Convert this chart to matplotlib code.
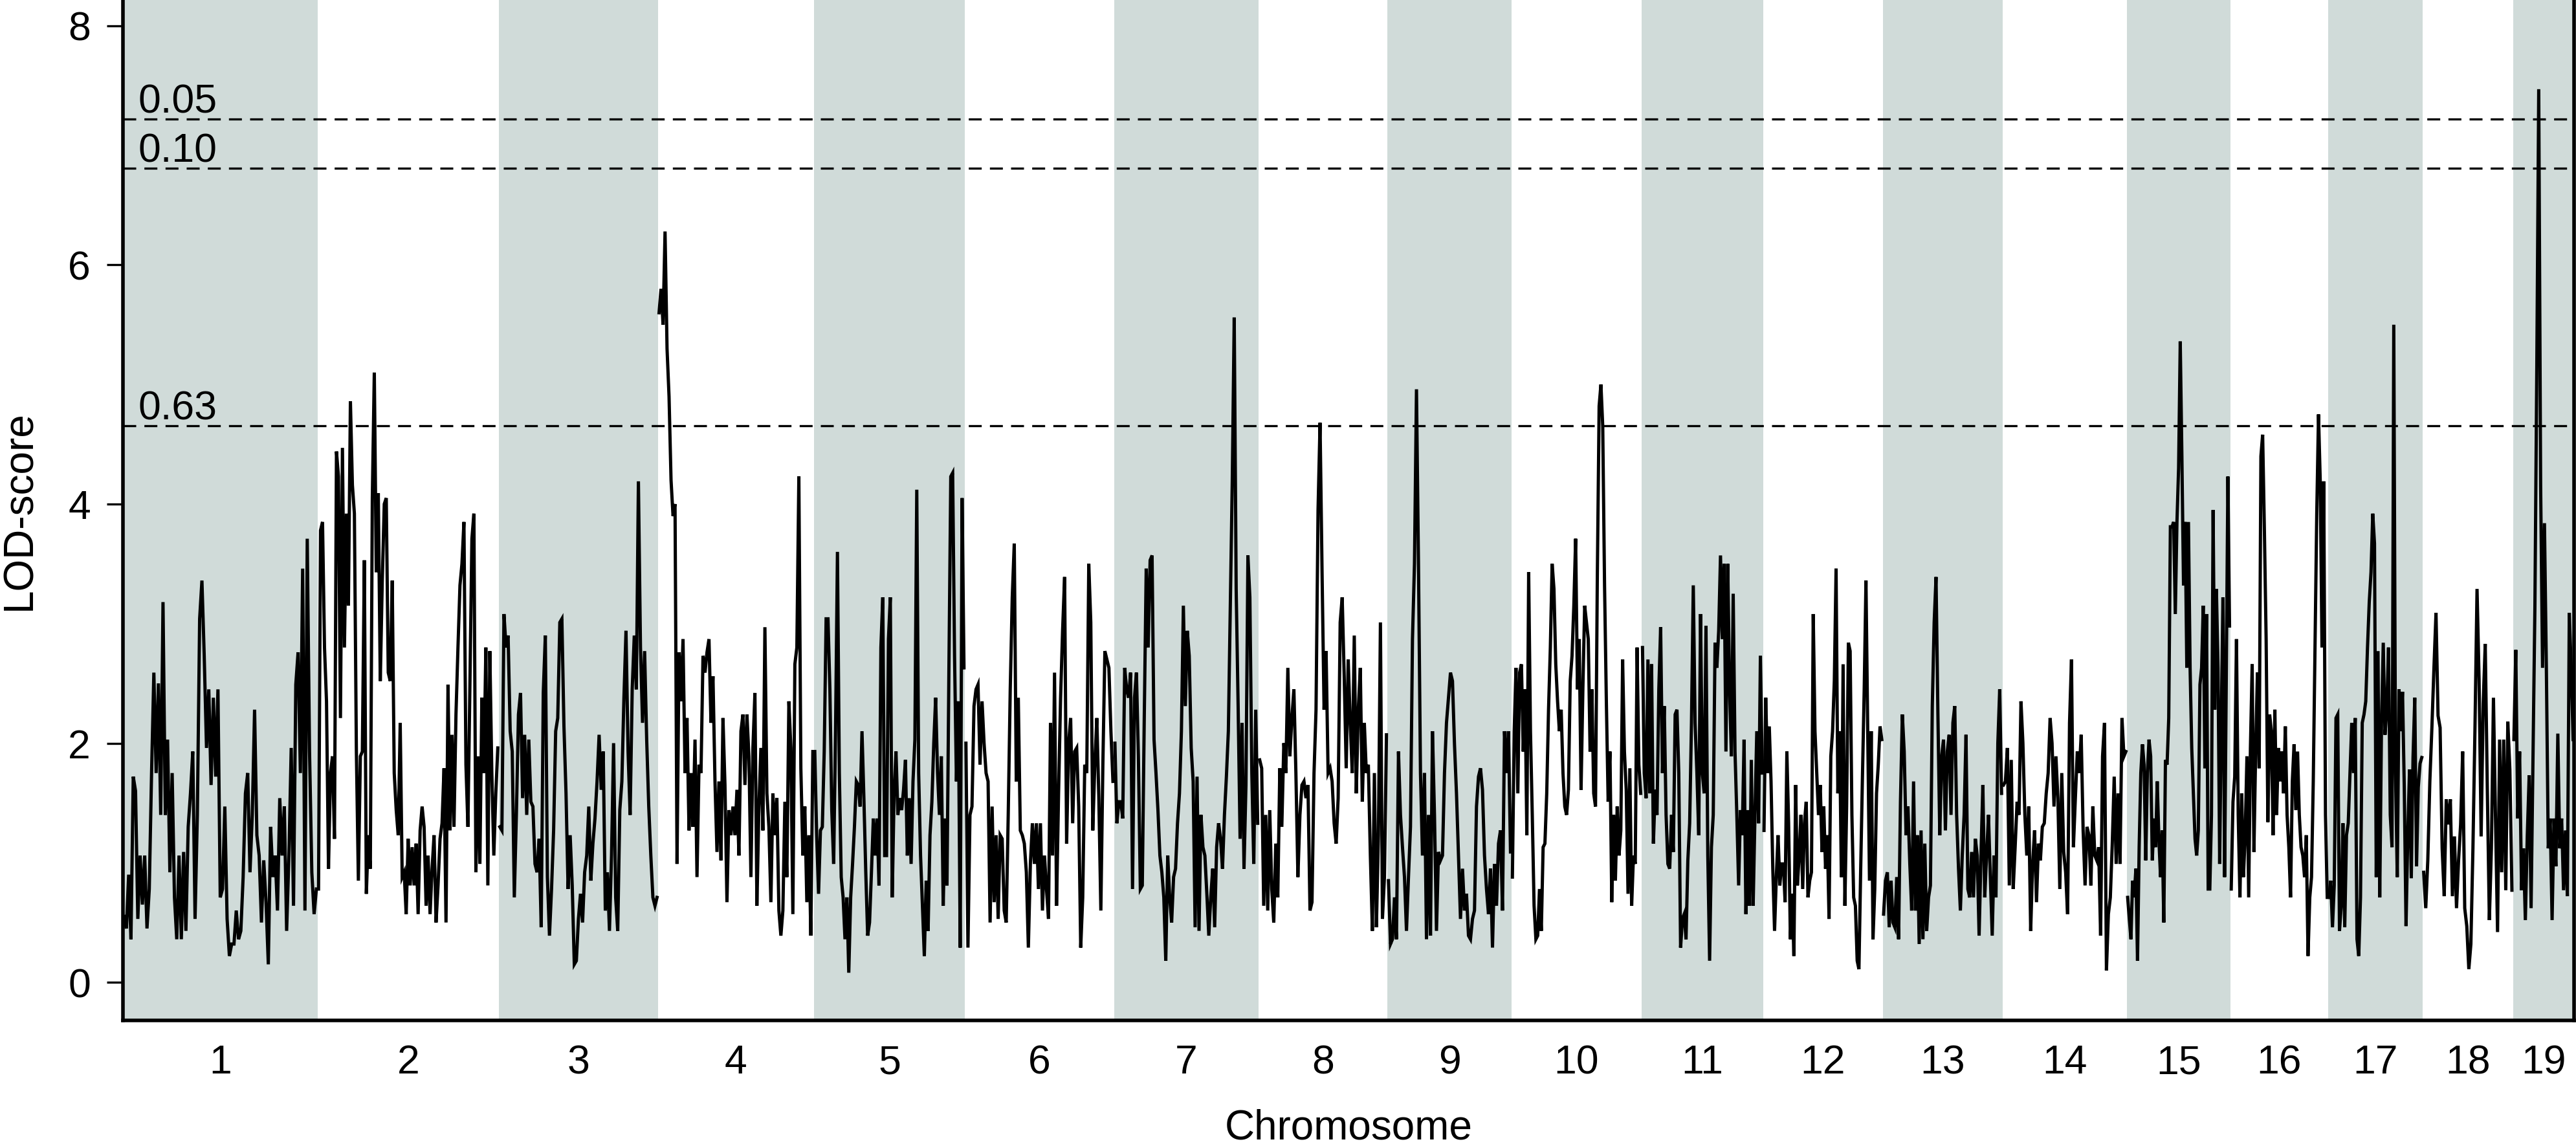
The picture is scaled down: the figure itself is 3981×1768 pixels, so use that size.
import numpy as np
import matplotlib
matplotlib.use("Agg")
from matplotlib import pyplot as plt

plt.rcParams['font.family'] = ['Liberation Sans', 'DejaVu Sans']

# chromosome names and lengths (Mb)
chrom_names = [str(i) for i in range(1, 20)]
chrom_len = [195.5, 182.1, 160.0, 156.5, 151.8, 149.7, 145.4, 129.4, 124.6, 130.7,
             122.1, 120.1, 120.4, 124.9, 104.0, 98.2, 95.0, 90.7, 61.4]

# LOD scores, evenly spaced along each chromosome
lod_chr1 = [0.55, 0.45, 0.9, 0.36, 1.72, 1.6, 0.53, 1.06, 0.65, 1.06, 0.45, 0.78, 1.75, 2.59, 1.75,
            2.5, 1.4, 3.18, 1.4, 2.03, 0.92, 1.75, 0.71, 0.36, 1.06, 0.36, 1.09, 0.43, 1.3, 1.58,
            1.93, 0.53, 1.4, 3.04, 3.36, 2.73, 1.96, 2.45, 1.65, 2.38, 1.72, 2.45, 0.71, 0.78, 1.47,
            0.53, 0.22, 0.32, 0.32, 0.6, 0.36, 0.43, 0.88, 1.58, 1.75, 0.92, 1.4, 2.28, 1.23, 1.06,
            0.5, 1.02, 0.67, 0.15, 1.3, 0.88, 1.06, 0.6, 1.54, 1.06, 1.47, 0.43, 1.06, 1.96, 0.64,
            2.49, 2.76, 1.75, 3.46, 0.6, 3.71, 1.93, 0.92, 0.57, 0.78]
lod_chr2 = [0.78, 3.78, 3.85, 2.8, 2.35, 0.95, 1.75, 1.89, 1.2, 4.44, 4.23, 2.21, 4.47, 2.8, 3.92,
            3.15, 4.86, 4.16, 3.92, 1.93, 0.85, 1.89, 1.93, 3.53, 0.74, 1.23, 0.95, 4.05, 5.1, 3.43,
            4.09, 2.52, 3.36, 4.0, 4.05, 2.59, 2.52, 3.36, 1.75, 1.44, 1.23, 2.17, 0.88, 0.92, 0.57,
            1.2, 0.81, 1.13, 0.81, 1.16, 0.57, 1.27, 1.47, 1.3, 0.64, 1.06, 0.57, 0.95, 1.23, 0.5,
            0.81, 1.2, 1.33, 1.79, 0.5, 2.49, 1.27, 2.07, 1.3, 2.24, 2.8, 3.32, 3.5, 3.85, 1.82,
            1.3, 2.49, 3.71, 3.92, 0.92, 1.89, 0.99, 2.38, 1.75, 2.8, 0.81, 2.77, 1.75, 1.06, 1.58,
            1.96]
lod_chr3 = [1.3, 1.27, 3.08, 2.8, 2.9, 2.1, 1.93, 0.71, 1.4, 2.24, 2.42, 1.54, 2.07, 1.4, 2.03,
            1.51, 1.47, 0.99, 0.92, 1.2, 0.46, 2.42, 2.9, 0.88, 0.39, 0.78, 1.27, 2.1, 2.21, 3.01,
            3.04, 2.14, 1.58, 0.78, 1.23, 0.81, 0.15, 0.18, 0.53, 0.74, 0.5, 0.92, 1.06, 1.47, 0.85,
            1.16, 1.37, 1.68, 2.07, 1.61, 1.93, 0.6, 0.92, 0.43, 1.06, 2.0, 0.71, 0.43, 1.44, 1.68,
            2.38, 2.94, 1.93, 1.4, 2.45, 2.9, 2.45, 4.19, 2.8, 2.17, 2.77, 2.03, 1.47, 1.06, 0.71,
            0.64, 0.71]
lod_chr4 = [5.6, 5.8, 5.5, 6.28, 5.3, 4.9, 4.2, 3.9, 4.0, 0.99, 2.76, 2.35, 2.87, 1.75, 2.21,
            1.27, 1.75, 1.3, 2.03, 0.88, 1.82, 1.75, 2.73, 2.59, 2.76, 2.87, 2.17, 2.56, 1.68, 1.09,
            1.68, 1.02, 2.21, 1.65, 0.67, 1.44, 1.23, 1.47, 1.23, 1.61, 1.06, 2.1, 2.24, 1.65, 2.24,
            1.89, 0.88, 1.96, 2.42, 0.64, 1.47, 1.96, 1.27, 2.97, 1.58, 1.3, 0.67, 1.58, 1.23, 1.54,
            0.6, 0.39, 0.6, 1.51, 0.88, 2.35, 1.96, 0.57, 2.66, 2.8, 4.23, 1.79, 1.06, 1.47, 0.67,
            1.23, 0.39, 1.93]
lod_chr5 = [1.93, 1.23, 0.74, 1.27, 1.3, 1.93, 3.04, 3.04, 2.45, 1.44, 0.99, 2.1, 3.6, 1.75, 0.88,
            0.71, 0.36, 0.71, 0.08, 0.71, 0.99, 1.3, 1.68, 1.65, 1.47, 2.1, 1.54, 0.92, 0.39, 0.5,
            0.92, 1.37, 1.06, 1.37, 0.81, 2.8, 3.22, 1.06, 1.06, 2.87, 3.22, 0.71, 1.58, 1.93, 1.4,
            1.54, 1.44, 1.61, 1.86, 1.06, 1.54, 0.99, 1.68, 2.03, 4.12, 1.75, 1.06, 0.64, 0.22, 0.85,
            0.43, 1.23, 1.51, 2.0, 2.38, 1.75, 1.4, 1.89, 0.64, 1.37, 0.81, 2.59, 4.23, 4.26, 2.73,
            1.68, 2.35, 0.29, 4.05, 2.63]
lod_chr6 = [2.0, 0.29, 1.4, 1.47, 2.31, 2.45, 2.49, 1.82, 2.35, 2.0, 1.75, 1.68, 0.5, 1.47, 0.67,
            1.23, 0.53, 1.23, 1.2, 0.6, 0.5, 1.4, 2.45, 3.22, 3.67, 1.68, 2.38, 1.27, 1.23, 1.16,
            0.92, 0.29, 0.99, 1.33, 0.99, 1.33, 0.78, 1.33, 0.6, 1.06, 0.78, 0.53, 2.17, 1.06, 2.59,
            0.64, 1.58, 2.38, 2.94, 3.39, 1.16, 2.0, 2.21, 1.33, 1.93, 1.96, 1.47, 0.29, 0.71, 1.82,
            1.75, 3.5, 3.01, 1.27, 1.82, 2.21, 1.54, 0.6, 1.82, 2.77, 2.7, 2.63, 2.1, 1.68]
lod_chr7 = [2.0, 1.33, 1.51, 1.51, 1.37, 2.63, 2.45, 2.38, 2.59, 0.78, 2.38, 2.59, 1.89, 0.78, 0.81,
            2.21, 3.46, 2.8, 3.53, 3.57, 2.03, 1.75, 1.44, 1.06, 0.92, 0.71, 0.18, 1.06, 0.71, 0.5,
            0.88, 0.95, 1.33, 1.58, 2.1, 3.15, 2.31, 2.94, 2.73, 1.96, 1.68, 0.46, 1.72, 0.43, 1.4,
            1.13, 1.06, 0.74, 0.39, 0.71, 0.95, 0.46, 1.13, 1.33, 1.2, 0.95, 1.4, 1.72, 2.1, 3.15,
            4.19, 5.56, 3.29, 2.31, 1.2, 2.17, 0.95, 1.65, 3.57, 3.22, 1.75, 0.99, 2.28, 1.33]
lod_chr8 = [1.86, 1.79, 0.64, 1.4, 0.6, 1.44, 0.78, 0.5, 1.16, 0.71, 1.79, 1.3, 2.0, 1.75, 2.63,
            1.89, 2.21, 2.45, 1.75, 0.88, 1.4, 1.65, 1.68, 1.54, 1.65, 0.6, 0.67, 1.75, 2.28, 3.95,
            4.68, 3.43, 2.28, 2.77, 1.75, 1.79, 1.68, 1.33, 1.16, 1.54, 3.01, 3.22, 2.56, 1.79, 2.7,
            2.17, 1.75, 2.9, 1.58, 2.28, 2.63, 1.51, 2.17, 1.75, 1.82, 1.06, 0.43, 1.75, 0.46, 1.23,
            3.01, 0.53, 0.88, 2.07]
lod_chr9 = [0.85, 0.32, 0.36, 0.71, 0.36, 1.93, 1.4, 1.13, 0.88, 0.43, 0.88, 1.3, 2.87, 3.5, 4.96,
            3.5, 1.75, 1.06, 1.75, 0.36, 1.4, 0.39, 2.1, 1.4, 0.43, 1.09, 1.02, 1.06, 1.75, 2.17,
            2.38, 2.59, 2.52, 1.99, 1.58, 1.06, 0.53, 0.95, 0.6, 0.74, 0.39, 0.36, 0.53, 0.6, 1.47,
            1.72, 1.79, 1.61, 1.06, 0.78, 0.57, 0.95, 0.29, 0.99, 0.64, 1.16, 1.27, 0.6, 2.1, 1.75,
            2.1, 1.09]
lod_chr10 = [0.88, 2.1, 2.63, 1.58, 2.59, 2.66, 1.93, 2.45, 1.23, 3.43, 2.1, 1.4, 0.64, 0.36, 0.39,
             0.78, 0.43, 1.13, 1.16, 1.58, 2.28, 2.8, 3.5, 3.29, 2.66, 2.35, 2.1, 2.28, 1.75, 1.47,
             1.4, 1.61, 2.52, 2.73, 3.15, 3.71, 2.45, 2.87, 1.61, 2.45, 3.15, 3.01, 2.87, 1.93, 2.45,
             1.58, 1.47, 3.39, 4.82, 5.0, 4.65, 3.32, 2.35, 1.51, 1.93, 0.67, 1.4, 0.85, 1.47, 1.06,
             1.27, 2.7, 1.93, 1.61, 0.74, 1.79, 0.64, 1.06, 0.99, 2.8, 1.82, 1.58]
lod_chr11 = [2.8, 1.75, 1.54, 2.7, 1.58, 2.66, 1.16, 1.61, 1.4, 2.45, 2.97, 1.75, 2.31, 1.4, 0.99,
             0.95, 1.4, 1.09, 2.24, 2.28, 1.75, 0.29, 0.53, 0.57, 0.36, 1.02, 1.33, 2.17, 3.32, 2.17,
             1.75, 1.23, 3.08, 1.75, 1.58, 2.98, 1.06, 0.18, 1.13, 1.4, 2.84, 2.63, 2.94, 3.57, 2.87,
             3.5, 1.93, 3.5, 2.45, 1.89, 3.25, 1.93, 1.4, 0.81, 1.44, 1.23, 2.03, 0.57, 1.44, 0.64,
             1.86, 0.64, 1.4, 2.1, 1.33, 2.73, 1.75]
lod_chr12 = [1.27, 2.38, 1.75, 2.14, 1.68, 0.95, 0.43, 0.88, 1.23, 0.81, 0.99, 0.99, 0.67, 1.93, 1.33,
             0.36, 0.74, 0.22, 1.65, 0.81, 1.06, 1.4, 0.78, 1.33, 1.51, 0.71, 0.85, 0.92, 3.08, 2.1,
             1.75, 1.4, 1.65, 1.09, 1.47, 0.95, 1.23, 0.53, 1.89, 2.1, 2.52, 3.46, 1.58, 2.1, 0.88,
             2.66, 0.64, 1.47, 2.84, 2.77, 1.4, 0.71, 0.64, 0.18, 0.11, 0.95, 1.72, 2.45, 3.36, 2.1,
             0.85, 2.1, 0.36, 0.78, 1.58, 1.82, 2.14, 2.03]
lod_chr13 = [0.57, 0.85, 0.92, 0.46, 0.85, 0.5, 0.46, 0.88, 0.36, 1.51, 2.24, 1.93, 1.23, 1.47, 0.99,
             0.6, 1.68, 0.6, 1.23, 0.32, 1.27, 0.36, 1.16, 0.43, 0.71, 0.81, 2.31, 3.01, 3.39, 2.24,
             1.23, 1.89, 2.03, 1.27, 1.93, 2.07, 1.4, 2.17, 2.31, 1.4, 0.95, 0.6, 1.06, 1.4, 2.07,
             0.78, 0.71, 1.09, 0.71, 1.2, 1.06, 0.39, 1.06, 1.65, 0.71, 1.06, 1.4, 0.88, 0.39, 1.06,
             0.71, 2.0, 2.45, 1.58]
lod_chr14 = [1.65, 1.68, 1.96, 0.81, 1.86, 0.78, 1.13, 1.51, 1.4, 2.35, 2.0, 1.4, 1.06, 1.47, 0.43,
             0.99, 1.27, 0.67, 1.16, 1.02, 1.3, 1.33, 1.58, 1.75, 2.21, 2.0, 1.47, 1.89, 1.54, 0.78,
             1.75, 1.09, 0.92, 0.57, 2.17, 2.7, 1.13, 1.54, 1.93, 1.75, 2.07, 1.27, 0.81, 1.3, 1.23,
             0.81, 1.47, 1.06, 1.02, 1.13, 0.39, 1.89, 2.17, 0.1, 0.57, 0.71, 1.16, 1.72, 0.99, 1.58,
             0.99, 2.21, 1.89, 1.93]
lod_chr15 = [0.71, 0.53, 0.36, 0.85, 0.71, 0.95, 0.18, 1.13, 1.75, 1.99, 1.82, 1.02, 1.75, 2.03, 1.89,
             1.02, 1.37, 1.13, 1.68, 1.2, 0.88, 1.27, 0.5, 1.86, 1.82, 2.21, 3.81, 3.81, 3.85, 3.08,
             3.85, 4.3, 5.36, 4.4, 3.32, 3.85, 2.63, 3.85, 2.63, 1.96, 1.58, 1.2, 1.06, 1.27, 2.49,
             2.63, 3.15, 1.79, 3.08, 0.78, 0.78, 1.4, 3.95, 2.28, 3.29, 2.63, 0.99, 2.21, 3.22, 0.88,
             2.52, 4.23, 2.98]
lod_chr16 = [0.78, 1.51, 1.72, 2.87, 1.4, 0.71, 1.58, 0.88, 1.23, 1.89, 0.71, 1.96, 2.66, 1.09, 1.93,
             2.59, 1.79, 4.4, 4.58, 3.78, 2.87, 1.34, 2.24, 2.1, 1.23, 2.28, 1.4, 1.96, 1.68, 1.93,
             1.58, 2.14, 1.4, 1.13, 0.71, 1.68, 1.99, 1.44, 1.93, 1.4, 1.13, 1.06, 0.88, 1.23, 0.22,
             0.71, 0.88, 1.68, 2.8, 3.92, 4.75, 4.19, 2.8, 4.19, 1.4, 0.71]
lod_chr17 = [0.71, 0.85, 0.46, 0.81, 2.21, 2.24, 0.43, 0.64, 1.33, 0.46, 1.23, 1.33, 1.75, 2.17, 1.75,
             2.21, 0.36, 0.22, 0.71, 2.17, 2.24, 2.35, 2.8, 3.18, 3.43, 3.92, 3.67, 0.88, 2.77, 0.71,
             2.17, 2.84, 2.07, 2.28, 2.8, 1.4, 1.13, 5.5, 1.75, 0.88, 2.45, 2.1, 2.43, 1.63, 0.47,
             1.23, 1.78, 0.87, 1.88, 2.38, 0.97, 1.63, 1.83, 1.88]
lod_chr18 = [0.92, 0.62, 1.02, 1.68, 2.13, 2.63, 3.09, 2.23, 2.13, 1.12, 0.72, 1.53, 1.32, 1.53, 0.72,
             1.22, 0.62, 1.02, 1.32, 1.93, 0.62, 0.47, 0.11, 0.32, 1.12, 2.13, 3.29, 2.53, 1.22, 2.33,
             2.83, 1.63, 0.52, 1.12, 2.38, 1.37, 0.42, 2.03, 0.92, 2.03, 0.77, 2.18, 1.78, 0.77]
lod_chr19 = [2.03, 2.78, 1.37, 1.93, 0.77, 1.12, 0.52, 1.22, 1.73, 0.62, 1.88, 3.14, 5.16, 7.47, 4.15,
             2.63, 3.84, 2.63, 1.12, 1.37, 0.52, 1.37, 0.97, 2.08, 1.12, 1.37, 0.77, 1.27, 0.72, 3.09,
             2.63, 2.03]

lod_by_chrom = [lod_chr1, lod_chr2, lod_chr3, lod_chr4, lod_chr5, lod_chr6, lod_chr7, lod_chr8,
                lod_chr9, lod_chr10, lod_chr11, lod_chr12, lod_chr13, lod_chr14, lod_chr15,
                lod_chr16, lod_chr17, lod_chr18, lod_chr19]

# genome-wide significance thresholds
thresholds = [7.22, 6.81, 4.655]
threshold_labels = ["0.05", "0.10", "0.63"]

band_color = "#D0DBD9"

fig = plt.figure(figsize=(39.81, 17.68), dpi=100)
ax = fig.add_axes([190 / 3981, 191 / 1768, 3788 / 3981, 1577 / 1768])

starts = np.concatenate([[0], np.cumsum(chrom_len)[:-1]])
total = float(np.sum(chrom_len))
mids = []
for i, (start, length, lod) in enumerate(zip(starts, chrom_len, lod_by_chrom)):
    if i % 2 == 0:
        ax.axvspan(start, start + length, color=band_color, lw=0, zorder=0)
    n = len(lod)
    pos = start + (np.arange(n) + 0.5) / n * length
    ax.plot(pos, lod, color="black", lw=3.6, solid_joinstyle="miter", zorder=3)
    mids.append(start + length / 2)

for thr, lab in zip(thresholds, threshold_labels):
    ax.axhline(thr, color="black", lw=2.4, dashes=(6, 3.8), zorder=2)
    ax.text(15, thr + 0.05, lab, fontsize=45, ha="left", va="baseline", zorder=4)

ax.set_xlim(0, total)
ax.set_ylim(-0.319, 8.216)
ax.set_yticks([0, 2, 4, 6, 8])
ax.set_xticks(mids)
ax.set_xticklabels(chrom_names)
ax.tick_params(axis="y", length=18, width=2.4, pad=18, labelsize=45)
ax.tick_params(axis="x", length=0, pad=26, labelsize=45)
ax.set_xlabel("Chromosome", fontsize=46, labelpad=30)
ax.set_ylabel("LOD-score", fontsize=46, labelpad=32)

for side in ["left", "bottom", "right"]:
    ax.spines[side].set_linewidth(4.0)
ax.spines["top"].set_visible(False)

fig.savefig("out.png", dpi=100)
